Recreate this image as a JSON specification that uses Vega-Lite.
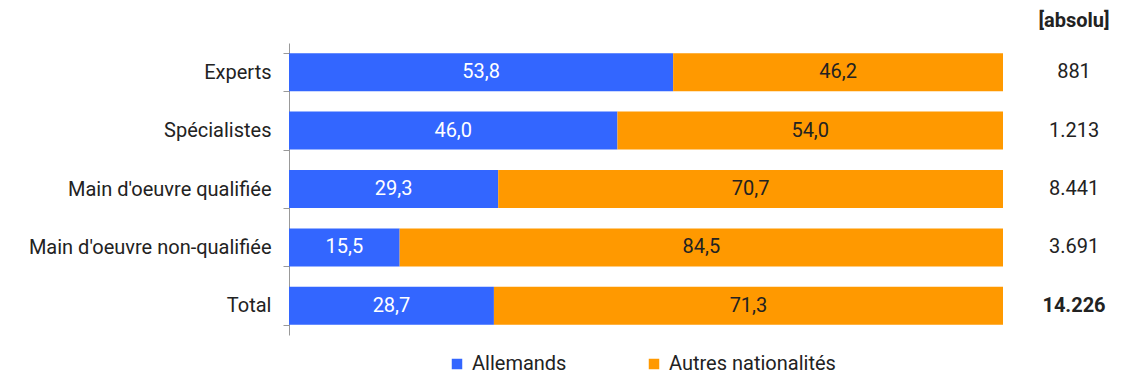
{
  "$schema": "https://vega.github.io/schema/vega-lite/v6.json",
  "padding": {"left": 28, "top": 11, "right": 5, "bottom": 5},
  "background": "white",
  "config": {
    "font": "Roboto",
    "view": {"stroke": null},
    "locale": {"number": {"decimal": ",", "thousands": ".", "grouping": [3], "currency": ["", " €"]}},
    "concat": {"spacing": 31}
  },
  "datasets": {
    "bars": [
      {"cat": "Experts", "group": "Allemands", "pct": 53.8},
      {"cat": "Experts", "group": "Autres nationalités", "pct": 46.2},
      {"cat": "Spécialistes", "group": "Allemands", "pct": 46.0},
      {"cat": "Spécialistes", "group": "Autres nationalités", "pct": 54.0},
      {"cat": "Main d'oeuvre qualifiée", "group": "Allemands", "pct": 29.3},
      {"cat": "Main d'oeuvre qualifiée", "group": "Autres nationalités", "pct": 70.7},
      {"cat": "Main d'oeuvre non-qualifiée", "group": "Allemands", "pct": 15.5},
      {"cat": "Main d'oeuvre non-qualifiée", "group": "Autres nationalités", "pct": 84.5},
      {"cat": "Total", "group": "Allemands", "pct": 28.7},
      {"cat": "Total", "group": "Autres nationalités", "pct": 71.3}
    ],
    "totals": [
      {"cat": "Experts", "n": 881},
      {"cat": "Spécialistes", "n": 1213},
      {"cat": "Main d'oeuvre qualifiée", "n": 8441},
      {"cat": "Main d'oeuvre non-qualifiée", "n": 3691},
      {"cat": "Total", "n": 14226}
    ]
  },
  "hconcat": [
    {
      "width": 714,
      "height": 292,
      "data": {"name": "bars"},
      "encoding": {
        "y": {
          "field": "cat",
          "type": "nominal",
          "sort": ["Experts", "Spécialistes", "Main d'oeuvre qualifiée", "Main d'oeuvre non-qualifiée", "Total"],
          "scale": {"paddingInner": 0.35, "paddingOuter": 0.175},
          "axis": {
            "title": null,
            "tickBand": "extent",
            "domainColor": "#999999",
            "tickColor": "#999999",
            "tickSize": 6,
            "labelFontSize": 20,
            "labelColor": "#222222",
            "labelPadding": 12,
            "labelLimit": 400,
            "labelFont": "Roboto"
          }
        },
        "x": {
          "field": "pct",
          "type": "quantitative",
          "stack": "zero",
          "scale": {"domain": [0, 100]},
          "axis": null
        },
        "order": {"field": "group", "sort": "ascending"}
      },
      "layer": [
        {
          "mark": {"type": "bar"},
          "encoding": {
            "color": {
              "field": "group",
              "type": "nominal",
              "scale": {"domain": ["Allemands", "Autres nationalités"], "range": ["#3366ff", "#ff9900"]},
              "legend": {
                "title": null,
                "orient": "none",
                "legendX": 158,
                "legendY": 311,
                "direction": "horizontal",
                "symbolType": "square",
                "symbolSize": 110,
                "symbolStrokeWidth": 0,
                "labelFontSize": 20,
                "labelColor": "#222222",
                "labelFont": "Roboto",
                "labelOffset": 5,
                "labelLimit": 300,
                "columnPadding": 77
              }
            }
          }
        },
        {
          "mark": {"type": "text", "fontSize": 20, "font": "Roboto", "baseline": "middle", "align": "center"},
          "encoding": {
            "x": {"field": "pct", "type": "quantitative", "stack": "zero", "bandPosition": 0.5},
            "text": {"field": "pct", "type": "quantitative", "format": ".1f"},
            "color": {
              "condition": {"test": "datum.group === 'Allemands'", "value": "#ffffff"},
              "value": "#222222"
            }
          }
        }
      ]
    },
    {
      "width": 80,
      "height": 292,
      "data": {"name": "totals"},
      "title": {"text": "[absolu]", "fontSize": 20, "fontWeight": "bold", "font": "Roboto", "color": "#222222", "anchor": "middle", "offset": 12},
      "encoding": {
        "y": {
          "field": "cat",
          "type": "nominal",
          "sort": ["Experts", "Spécialistes", "Main d'oeuvre qualifiée", "Main d'oeuvre non-qualifiée", "Total"],
          "scale": {"paddingInner": 0.35, "paddingOuter": 0.175},
          "axis": null
        },
        "text": {"field": "n", "type": "quantitative", "format": ","}
      },
      "layer": [
        {
          "transform": [{"filter": "datum.cat !== 'Total'"}],
          "mark": {"type": "text", "fontSize": 20, "font": "Roboto", "color": "#222222", "baseline": "middle", "align": "center"},
          "encoding": {}
        },
        {
          "transform": [{"filter": "datum.cat === 'Total'"}],
          "mark": {"type": "text", "fontSize": 20, "font": "Roboto", "fontWeight": "bold", "color": "#222222", "baseline": "middle", "align": "center"},
          "encoding": {}
        }
      ]
    }
  ]
}
